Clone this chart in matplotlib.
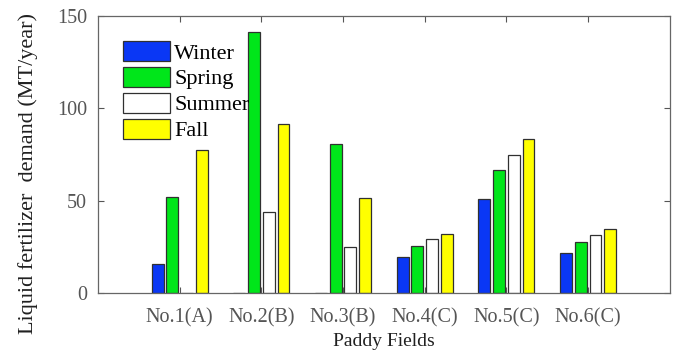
import matplotlib.pyplot as plt
import numpy as np

# data
fields = ['No.1(A)', 'No.2(B)', 'No.3(B)', 'No.4(C)', 'No.5(C)', 'No.6(C)']
seasons = ['Winter', 'Spring', 'Summer', 'Fall']
winter = [15.5, 0, 0, 19.5, 51, 21.5]
spring = [52, 141.5, 80.5, 25.5, 66.5, 27.5]
summer = [0, 44, 25, 29, 75, 31.5]
fall = [77.5, 91.5, 51.5, 32, 83.5, 34.5]
colors = ['#0a37f5', '#00e61a', 'white', '#ffff00']

plt.rcParams['font.family'] = ['Liberation Serif', 'DejaVu Serif']

fig = plt.figure(figsize=(6.78, 3.56), dpi=100)
ax = fig.add_axes([0.1445, 0.177, 0.8435, 0.778])

x = np.arange(1, len(fields) + 1)
slot = 0.18
width = 0.145
for i, (vals, name, c) in enumerate(zip([winter, spring, summer, fall], seasons, colors)):
    ax.bar(x + (i - 1.5) * slot, vals, width, color=c, edgecolor='#303030',
           linewidth=0.9, label=name)

ax.set_xlim(0, 7)
ax.set_ylim(0, 150)
ax.set_yticks([0, 50, 100, 150])
ax.set_xticks(x)
ax.set_xticklabels(fields)
ax.tick_params(direction='in', top=True, right=True, length=4, color='#555555',
               labelsize=14.5, labelcolor='#555555')
ax.tick_params(axis='x', pad=11)
ax.tick_params(axis='y', pad=8)
for s in ax.spines.values():
    s.set_color('#666666')
    s.set_linewidth(0.9)

ax.set_xlabel('Paddy Fields', fontsize=14, color='#202020', labelpad=4)
ax.set_ylabel('Liquid fertilizer  demand (MT/year)', fontsize=16, color='#202020')
ax.yaxis.set_label_coords(-0.105, 0.43)

ax.legend(loc='upper left', bbox_to_anchor=(0.044, 0.91), frameon=False, fontsize=16,
          handlelength=2.1, handleheight=1.0, handletextpad=0.2, labelspacing=0.15,
          borderaxespad=0, borderpad=0)

fig.savefig('out.png', dpi=100)
